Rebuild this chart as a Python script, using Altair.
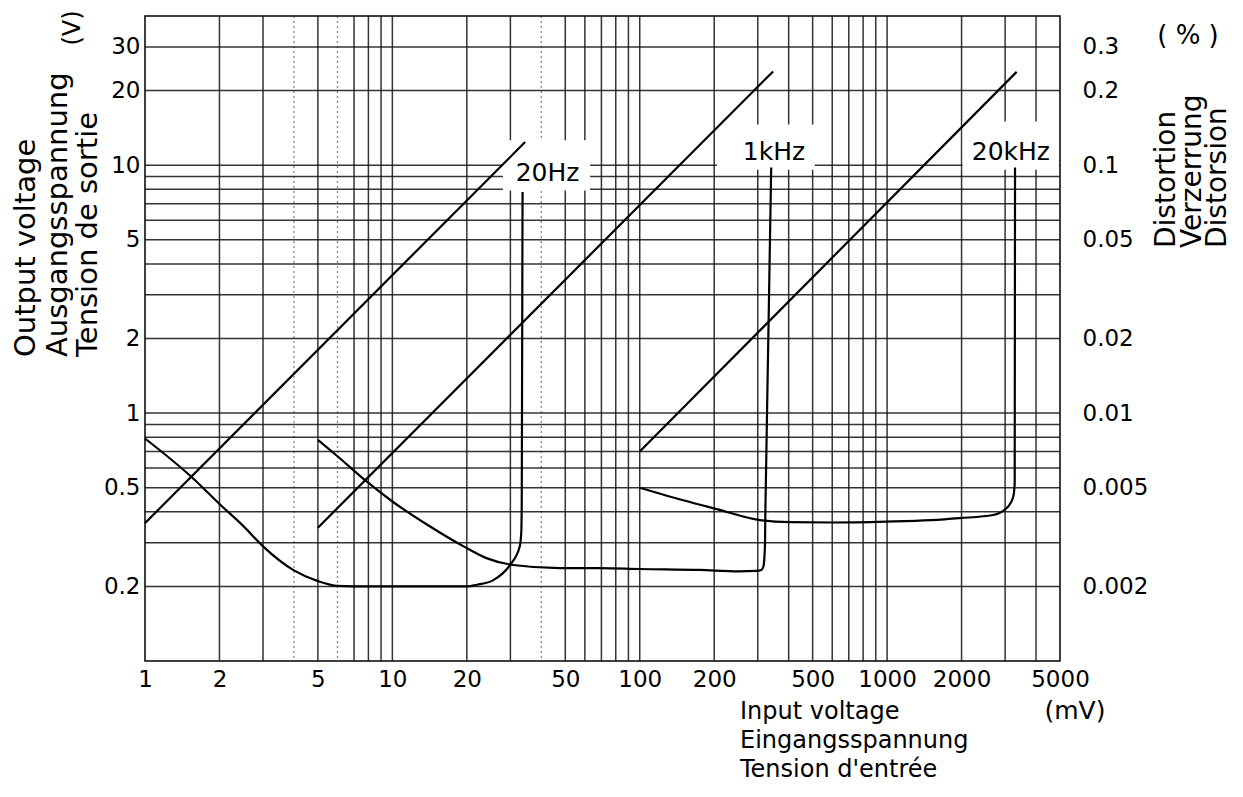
import altair as alt
import pandas as pd

FONT = "DejaVu Sans"

# ---------------- data (x = input voltage, mV) ----------------
# output voltage lines (V)
out_20hz_mv = [1, 34.4]
out_20hz_v = [0.36, 12.4]
out_1khz_mv = [5, 346]
out_1khz_v = [0.345, 23.9]
out_20khz_mv = [100, 3340]
out_20khz_v = [0.70, 23.8]

# distortion curves (%)
dist_20hz_mv = [1, 1.55, 2, 2.5, 3, 4, 5, 6, 8, 10, 15, 20, 22, 25.6, 29.9, 32.7, 33.2, 33.35, 33.6]
dist_20hz_pct = [0.0079, 0.0055, 0.0043, 0.0035, 0.0029, 0.00232, 0.0021, 0.00201, 0.002, 0.002,
                 0.002, 0.002, 0.00203, 0.00212, 0.00244, 0.00289, 0.0033, 0.0045, 0.078]
dist_1khz_mv = [5, 6, 7.87, 10, 14, 19.4, 24, 30.8, 47.6, 69, 100, 175, 250, 297, 310, 316, 319, 321, 322, 340]
dist_1khz_pct = [0.0078, 0.0067, 0.0053, 0.0044, 0.00352, 0.0029, 0.0026, 0.00244, 0.00237, 0.00237,
                 0.00235, 0.00233, 0.0023, 0.00231, 0.00233, 0.0024, 0.0026, 0.003, 0.004, 0.098]
dist_20khz_mv = [100, 150, 205, 306, 405, 600, 994, 1500, 1968, 2685, 3086, 3236, 3280, 3290]
dist_20khz_pct = [0.005, 0.00445, 0.0041, 0.0037, 0.00363, 0.00362, 0.00365, 0.0037, 0.00377,
                  0.00388, 0.0042, 0.0046, 0.0052, 0.098]

# curve labels and their blank backgrounds
freq_labels = ["20Hz", "1kHz", "20kHz"]
label_mv = [42.4, 349, 3165]
label_v = [9.3, 11.3, 11.3]
box_mv_lo = [28, 205, 2020]
box_mv_hi = [63, 510, 4950]
box_v_lo = [7.9, 9.6, 9.6]
box_v_hi = [12.6, 14.6, 15.0]

# ticks and grid
x_tick_values = [1, 2, 5, 10, 20, 50, 100, 200, 500, 1000, 2000, 5000]
v_tick_values = [0.2, 0.5, 1, 2, 5, 10, 20, 30]
pct_tick_values = [0.002, 0.005, 0.01, 0.02, 0.05, 0.1, 0.2, 0.3]
x_grid_solid = [2, 3, 5, 7, 8, 9, 10, 20, 30, 50, 60, 70, 80, 90, 100, 200, 300, 400, 500,
                600, 700, 800, 900, 1000, 2000, 3000, 4000]
x_grid_dotted = [4, 6, 40]
v_grid = [0.2, 0.3, 0.4, 0.5, 0.6, 0.7, 0.8, 0.9, 1, 2, 3, 4, 5, 6, 7, 8, 9, 10, 20, 30]

left_title = ["Output voltage", "Ausgangsspannung", "Tension de sortie"]
right_title = ["Distortion", "Verzerrung", "Distorsion"]
bottom_title = ["Input voltage", "Eingangsspannung", "Tension d'entrée"]
v_unit = "(V)"
pct_unit = "( % )"
mv_unit = "(mV)"

# ---------------- tables ----------------
out_df = pd.DataFrame({
    "mv": out_20hz_mv + out_1khz_mv + out_20khz_mv,
    "v": out_20hz_v + out_1khz_v + out_20khz_v,
    "s": ["20Hz"] * len(out_20hz_mv) + ["1kHz"] * len(out_1khz_mv) + ["20kHz"] * len(out_20khz_mv),
})
dist_df = pd.DataFrame({
    "mv": dist_20hz_mv + dist_1khz_mv + dist_20khz_mv,
    "pct": dist_20hz_pct + dist_1khz_pct + dist_20khz_pct,
    "s": ["20Hz"] * len(dist_20hz_mv) + ["1kHz"] * len(dist_1khz_mv) + ["20kHz"] * len(dist_20khz_mv),
})
dist_df["i"] = range(len(dist_df))
lab_df = pd.DataFrame({"t": freq_labels, "mv": label_mv, "v": label_v})
box_df = pd.DataFrame({"mv": box_mv_lo, "mv2": box_mv_hi, "v": box_v_lo, "v2": box_v_hi})

x_scale = alt.Scale(type="log", domain=[1, 5000], nice=False)
v_scale = alt.Scale(type="log", domain=[0.1, 40], nice=False)
p_scale = alt.Scale(type="log", domain=[0.001, 0.4], nice=False)

common_axis = dict(title=None, grid=False, ticks=False, tickSize=0, domain=False,
                   labelFont=FONT, labelFontSize=23, labelColor="black",
                   labelFlush=False, labelOverlap=False, format="~g")
x_axis = alt.Axis(orient="bottom", values=x_tick_values, labelPadding=7, labelBaseline="top", **common_axis)
v_axis = alt.Axis(orient="left", values=v_tick_values, labelPadding=5, **common_axis)
p_axis = alt.Axis(orient="right", values=pct_tick_values, labelPadding=22, labelAlign="left", **common_axis)


def X(field="mv:Q"):
    return alt.X(field, scale=x_scale, axis=x_axis)


GRID = "#111111"

hgrid = alt.Chart(pd.DataFrame({"v": v_grid})).mark_rule(
    color=GRID, strokeWidth=1.5, opacity=0.85
).encode(y=alt.Y("v:Q", scale=v_scale, axis=v_axis))

vgrid = alt.Chart(pd.DataFrame({"mv": x_grid_solid})).mark_rule(
    color=GRID, strokeWidth=1.5, opacity=0.85
).encode(x=X())

vgrid_dot = alt.Chart(pd.DataFrame({"mv": x_grid_dotted})).mark_rule(
    color=GRID, strokeWidth=1.3, opacity=0.5, strokeDash=[2, 3]
).encode(x=X())

boxes = alt.Chart(box_df).mark_rect(color="white", opacity=1).encode(
    x=X(), x2="mv2:Q",
    y=alt.Y("v:Q", scale=v_scale, axis=None), y2="v2:Q",
)

out_lines = alt.Chart(out_df).mark_line(color="black", strokeWidth=2.2).encode(
    x=X(),
    y=alt.Y("v:Q", scale=v_scale, axis=None),
    detail="s:N",
)

dist_lines = alt.Chart(dist_df).mark_line(
    color="black", strokeWidth=2.2, strokeJoin="round", interpolate="monotone"
).encode(
    x=X(),
    y=alt.Y("pct:Q", scale=p_scale, axis=p_axis),
    detail="s:N",
    order="i:Q",
)

labels = alt.Chart(lab_df).mark_text(font=FONT, fontSize=25, color="black").encode(
    x=X(),
    y=alt.Y("v:Q", scale=v_scale, axis=None),
    text="t:N",
)


def txt(s, x, y, size, angle=0, align="left", baseline="alphabetic"):
    return alt.Chart(alt.Data(values=[{"t": s}])).mark_text(
        font=FONT, fontSize=size, angle=angle, align=align, baseline=baseline, color="black"
    ).encode(x=alt.value(x), y=alt.value(y), text="t:N")


titles = []
for s, xx in zip(left_title, [-110, -78, -48]):
    titles.append(txt(s, xx, 341, 29, angle=270))
for s, xx in zip(right_title, [1030, 1056, 1081]):
    titles.append(txt(s, xx, 232, 28, angle=270))
for s, yy in zip(bottom_title, [703, 732, 761]):
    titles.append(txt(s, 595, yy, 24))
titles.append(txt(mv_unit, 930, 703, 25, align="center"))
titles.append(txt(v_unit, -72, 12, 24, angle=270, align="center", baseline="middle"))
titles.append(txt(pct_unit, 1043, 20, 26, align="center", baseline="middle"))

chart = alt.layer(
    hgrid, vgrid, vgrid_dot, boxes, out_lines, dist_lines, labels, *titles
).resolve_scale(y="independent").properties(
    width=915, height=645,
    autosize=alt.AutoSizeParams(type="none"),
    padding={"left": 137, "top": 8, "right": 175, "bottom": 123},
).configure_view(stroke="black", strokeWidth=1.5)

chart.save("out.html", embed_options={"renderer": "svg", "actions": False})
